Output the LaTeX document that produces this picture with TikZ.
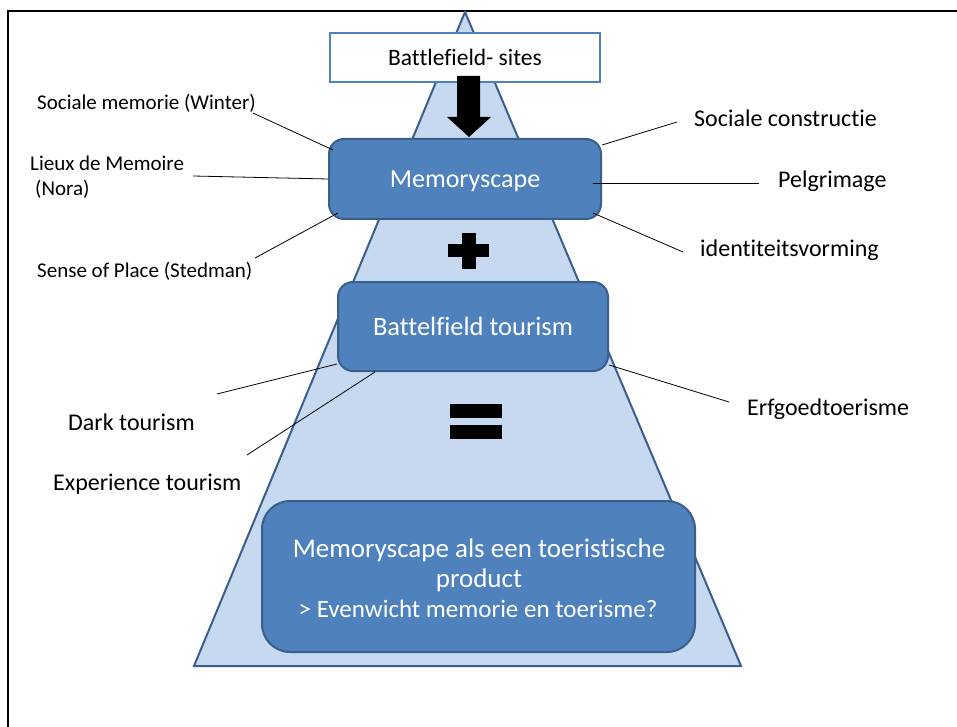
\documentclass[tikz,border=0pt]{standalone}
\usepackage{fontspec}
\setmainfont{Carlito}[Ligatures=NoCommon]
\definecolor{boxfill}{HTML}{4F81BD}
\definecolor{boxline}{HTML}{3A5F8B}
\definecolor{trifill}{HTML}{C6D9F1}
\definecolor{triline}{HTML}{3A5F8B}
\begin{document}
\begin{tikzpicture}[x=1pt,y=-1pt,
  lbl/.style={font=\fontsize{21}{24}\selectfont, inner sep=0pt, anchor=base west},
  rlbl/.style={font=\fontsize{24}{28}\selectfont, inner sep=0pt, anchor=base west},
  bluebox/.style={draw=boxline, line width=2pt, fill=boxfill, rounded corners=15pt, text=white, align=center, inner sep=0pt, text depth=0pt},
  boxtxt/.style={text=white, inner sep=0pt, anchor=base},
  conn/.style={draw=black, line width=0.8pt}]
\useasboundingbox (0,0) rectangle (957,727);
\fill[white] (0,0) rectangle (957,727);
% frame
\draw[line width=2.6pt, line cap=rect] (960,11) -- (8,11) -- (8,730);
% pyramid
\draw[fill=trifill, draw=triline, line width=2pt, line join=miter] (465,12) -- (741,666) -- (194,666) -- cycle;
% top box
\node[draw=boxfill, line width=2pt, fill=white, minimum width=270pt, minimum height=49pt, inner sep=0pt, text height=15.5pt, text depth=0pt, font=\fontsize{23.5}{27}\selectfont] (sites) at (465,58) {Battlefield- sites};
% arrow
\fill[black] (457,76) -- (480,76) -- (480,117) -- (491,117) -- (469,137) -- (447,117) -- (457,117) -- cycle;
% Memoryscape
\node[bluebox, minimum width=272pt, minimum height=80pt, text height=16.5pt, font=\fontsize{26}{30}\selectfont] (mem) at (465,179) {Memoryscape};
% plus
\fill[black] (462,233) rectangle (476,269);
\fill[black] (448,244) rectangle (489,257);
% Battelfield tourism
\node[bluebox, minimum width=270pt, minimum height=89pt, text height=17pt, font=\fontsize{26.5}{30}\selectfont] (bt) at (473,326.5) {Battelfield tourism};
% equals
\fill[black] (450,404) rectangle (502,418);
\fill[black] (450,425) rectangle (502,439);
% bottom box
\node[bluebox, rounded corners=28pt, minimum width=433pt, minimum height=151pt] (prod) at (478.5,576.5) {};
\node[boxtxt, font=\fontsize{27}{30}\selectfont] (p1) at (479,557) {Memoryscape als een toeristische};
\node[boxtxt, font=\fontsize{27}{30}\selectfont] (p2) at (479,587) {product};
\node[boxtxt, font=\fontsize{25}{28}\selectfont] (p3) at (478,617) {> Evenwicht memorie en toerisme?};
% left labels
\node[lbl] (winter) at (37,109.5) {Sociale memorie (Winter)};
\node[lbl] (lieux) at (30,170.5) {Lieux de Memoire};
\node[lbl] (nora) at (35,196) {(Nora)};
\node[lbl] (sense) at (37,277) {Sense of Place (Stedman)};
\node[rlbl] (dark) at (68,430) {Dark tourism};
\node[rlbl] (exper) at (53,490) {Experience tourism};
% right labels
\node[rlbl] (socc) at (694,127) {Sociale constructie};
\node[rlbl] (pelg) at (778,188) {Pelgrimage};
\node[rlbl] (ident) at (700,256) {identiteitsvorming};
\node[rlbl] (erfg) at (747,415) {Erfgoedtoerisme};
% connector ends
\coordinate (cw1) at (253,113); \coordinate (cw2) at (333,150);
\coordinate (cl1) at (193,176); \coordinate (cl2) at (328,179);
\coordinate (cs1) at (255,258); \coordinate (cs2) at (338,213);
\coordinate (cr1) at (602,145); \coordinate (cr2) at (677,122);
\coordinate (cp1) at (593,183); \coordinate (cp2) at (759,183);
\coordinate (ci1) at (593,213); \coordinate (ci2) at (683,252);
\coordinate (cd1) at (217,394); \coordinate (cd2) at (337,364);
\coordinate (ce1) at (247,455); \coordinate (ce2) at (375,372);
\coordinate (cf1) at (609,365); \coordinate (cf2) at (729,402);
\draw[conn] (cw1) -- (cw2);
\draw[conn] (cl1) -- (cl2);
\draw[conn] (cs1) -- (cs2);
\draw[conn] (cr1) -- (cr2);
\draw[conn] (cp1) -- (cp2);
\draw[conn] (ci1) -- (ci2);
\draw[conn] (cd1) -- (cd2);
\draw[conn] (ce1) -- (ce2);
\draw[conn] (cf1) -- (cf2);
\end{tikzpicture}
\end{document}
